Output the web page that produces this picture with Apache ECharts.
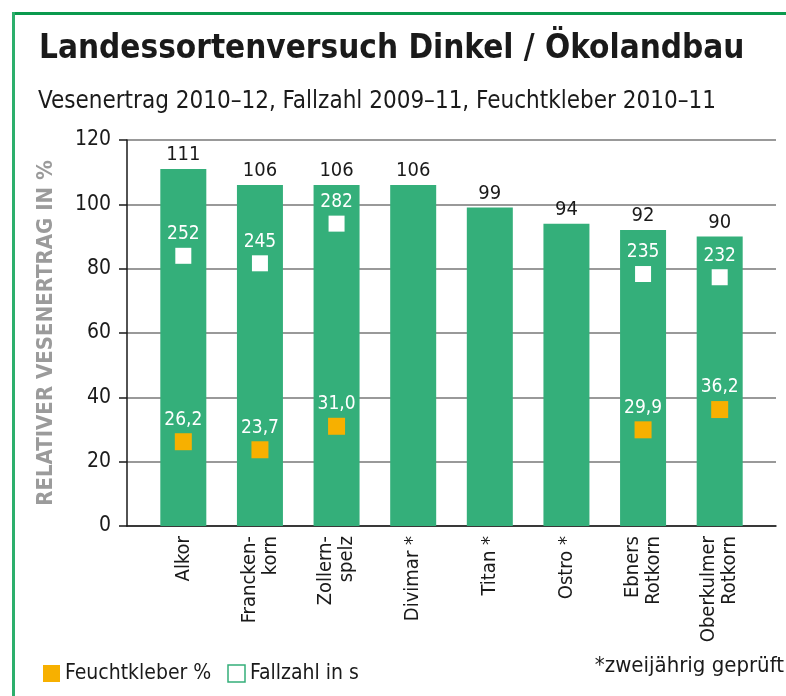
<!DOCTYPE html>
<html>
<head>
<meta charset="utf-8">
<script src="https://cdn.jsdelivr.net/npm/echarts@6/dist/echarts.min.js"></script>
<style>
  html, body { margin: 0; padding: 0; background: #fff; }
  #main { width: 786px; height: 696px; }
</style>
</head>
<body>
<div id="main"></div>
<script>
var FONT = '"DejaVu Sans Condensed", "Liberation Sans", sans-serif';

// Sorten
var sorten = ['Alkor', 'Francken-\nkorn', 'Zollern-\nspelz', 'Divimar *', 'Titan *', 'Ostro *', 'Ebners\nRotkorn', 'Oberkulmer\nRotkorn'];
// relativer Vesenertrag in %
var ertrag = [111, 106, 106, 106, 99, 94, 92, 90];
// Fallzahl in s (weisse Quadrate)
var fallzahl = [252, 245, 282, null, null, null, 235, 232];
// Feuchtkleber % (orange Quadrate)
var kleber = [26.2, 23.7, 31.0, null, null, null, 29.9, 36.2];
var yTicks = [0, 20, 40, 60, 80, 100, 120];

var myChart = echarts.init(document.getElementById('main'));

var option = {
  backgroundColor: '#fff',
  textStyle: { fontFamily: FONT },
  title: [{
    text: 'Landessortenversuch Dinkel / Ökolandbau',
    left: 34,
    top: 28,
    textStyle: { fontFamily: FONT, fontSize: 33, fontWeight: 'bold', color: '#1a1a1a' }
  }, {
    text: 'Vesenertrag 2010–12, Fallzahl 2009–11, Feuchtkleber 2010–11',
    left: 33,
    top: 85,
    textStyle: { fontFamily: FONT, fontSize: 24, fontWeight: 'normal', color: '#1a1a1a' }
  }],
  legend: {
    left: 38,
    top: 658,
    itemWidth: 17,
    itemHeight: 17,
    itemGap: 16,
    textStyle: { fontFamily: FONT, fontSize: 21, color: '#1a1a1a' },
    data: [
      { name: 'Feuchtkleber %', icon: 'rect' },
      { name: 'Fallzahl in s', icon: 'rect', itemStyle: { color: '#fff', borderColor: '#34af7a', borderWidth: 1.5 } }
    ]
  },
  graphic: [
    // gruener Rahmen oben und links
    { type: 'line', shape: { x1: 12, y1: 13.5, x2: 786, y2: 13.5 }, style: { stroke: '#0b9a4e', lineWidth: 3 } },
    { type: 'line', shape: { x1: 13.5, y1: 12, x2: 13.5, y2: 696 }, style: { stroke: '#2caf6c', lineWidth: 3 } },
    {
      type: 'text', right: 2, top: 655,
      style: { text: '*zweijährig geprüft', fontFamily: FONT, fontSize: 22, fill: '#1a1a1a' }
    }
  ],
  grid: [
    { left: 127, right: 10, top: 140, bottom: 170 },
    { left: 145, right: 28, top: 140, bottom: 170 }
  ],
  xAxis: [{
    gridIndex: 0,
    type: 'value',
    min: 0,
    max: 1,
    axisLine: { show: true, lineStyle: { color: '#1a1a1a', width: 1.5 } },
    axisTick: { show: false },
    axisLabel: { show: false },
    splitLine: { show: false }
  }, {
    gridIndex: 1,
    type: 'category',
    data: sorten,
    axisLine: { show: false },
    axisTick: { show: false },
    axisLabel: {
      rotate: 90,
      margin: 10,
      interval: 0,
      fontFamily: FONT,
      fontSize: 20,
      lineHeight: 21,
      color: '#1a1a1a'
    }
  }],
  yAxis: [{
    gridIndex: 0,
    type: 'value',
    min: 0,
    max: 120,
    interval: 20,
    name: 'RELATIVER VESENERTRAG IN %',
    nameLocation: 'middle',
    nameGap: 70,
    nameTextStyle: { fontFamily: FONT, fontSize: 22, fontWeight: 'bold', color: '#9b9b9b' },
    axisLine: { show: true, lineStyle: { color: '#1a1a1a', width: 1.5 } },
    axisTick: { show: true, length: 8, lineStyle: { color: '#1a1a1a', width: 1.5 } },
    axisLabel: {
      margin: 16,
      fontFamily: FONT,
      fontSize: 21,
      color: '#1a1a1a',
      formatter: function (v) { return yTicks.indexOf(v) > -1 ? v : ''; }
    },
    splitLine: { show: true, lineStyle: { color: '#777', width: 1.5 } }
  }, {
    gridIndex: 1,
    type: 'value',
    min: 0,
    max: 120,
    show: false
  }, {
    // Fallzahl: Quadrate stehen bei Wert / 3 auf der %-Achse
    gridIndex: 1,
    type: 'value',
    min: 0,
    max: 360,
    show: false
  }],
  series: [{
    name: 'Vesenertrag',
    type: 'bar',
    xAxisIndex: 1,
    yAxisIndex: 1,
    data: ertrag,
    barWidth: 46,
    itemStyle: { color: '#34af7a' },
    label: {
      show: true,
      position: 'top',
      distance: 4,
      fontFamily: FONT,
      fontSize: 20,
      color: '#1a1a1a'
    },
    z: 2
  }, {
    name: 'Fallzahl in s',
    type: 'scatter',
    xAxisIndex: 1,
    yAxisIndex: 2,
    data: fallzahl,
    symbol: 'rect',
    symbolSize: 16,
    itemStyle: { color: '#fff', opacity: 1 },
    label: {
      show: true,
      position: 'top',
      distance: 4,
      fontFamily: FONT,
      fontSize: 19,
      color: '#fff'
    },
    z: 3
  }, {
    name: 'Feuchtkleber %',
    type: 'scatter',
    xAxisIndex: 1,
    yAxisIndex: 1,
    data: kleber,
    symbol: 'rect',
    symbolSize: 17,
    itemStyle: { color: '#f7b000', opacity: 1 },
    label: {
      show: true,
      position: 'top',
      distance: 4,
      fontFamily: FONT,
      fontSize: 19,
      color: '#fff',
      formatter: function (p) { return p.value.toFixed(1).replace('.', ','); }
    },
    z: 3
  }]
};

myChart.setOption(option);
</script>
</body>
</html>
